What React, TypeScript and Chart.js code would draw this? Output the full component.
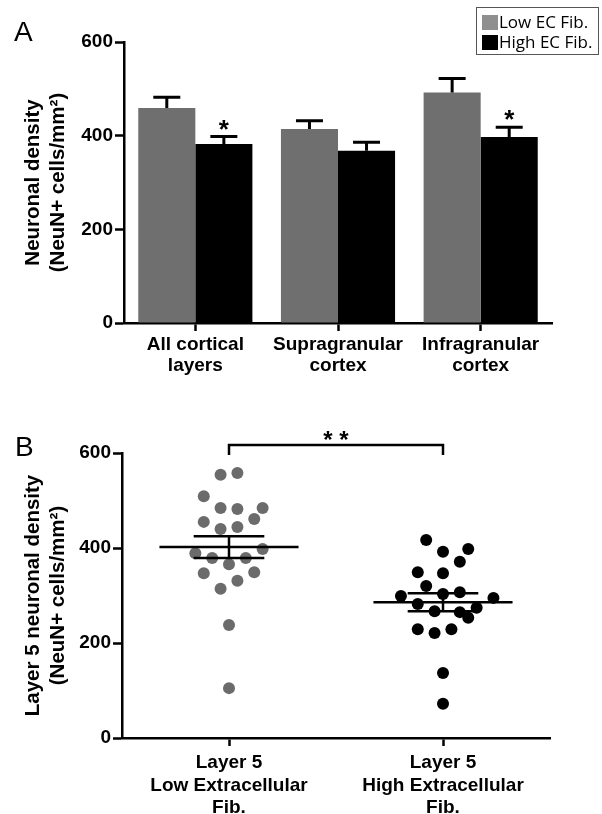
import React, { useEffect, useRef } from "react";
import { Chart, registerables } from "chart.js";

Chart.register(...registerables);

// ---------- Panel A data ----------
const categoriesA = [
  ["All cortical", "layers"],
  ["Supragranular", "cortex"],
  ["Infragranular", "cortex"],
];
const lowFibMean = [459, 414, 492];
const lowFibSem = [23, 18, 30];
const highFibMean = [382, 368, 397];
const highFibSem = [16, 18, 21];
const highFibSignif = ["*", "", "*"];
const seriesNames = ["Low EC Fib.", "High EC Fib."];

// ---------- Panel B data ----------
const groupLabelsB = [
  ["Layer 5", "Low Extracellular", "Fib."],
  ["Layer 5", "High Extracellular", "Fib."],
];
const layer5Low = [554, 558, 509, 484, 482, 484, 461, 455, 440, 444, 389, 398, 379, 366, 379, 347, 349, 331, 314, 238, 105];
const layer5LowJitter = [-1, 1, -3, -1, 1, 4, 3, -3, -1, 1, -4, 4, -2, 0, 2, -3, 3, 1, -1, 0, 0];
const layer5High = [417, 392, 398, 371, 349, 347, 320, 299, 303, 307, 295, 282, 267, 265, 274, 253, 229, 221, 229, 137, 72];
const layer5HighJitter = [-2, 0, 3, 2, -3, 0, -2, -5, 0, 2, 6, -3, -1, 2, 4, 3, -3, -1, 1, 0, 0];
const groupMeans = [402, 286];
const groupSems = [23, 19];
const bracketValue = 617;
const bracketLabel = "* *";

const FONT = '"Liberation Sans", Arial, Helvetica, sans-serif';
const GRAY = "#6f6f6f";
const GRAY_DOT = "#6b6b6b";
const JITTER_STEP = 0.0393;

const errorBarPlugin = {
  id: "errorBarsA",
  afterDatasetsDraw(chart: any) {
    const ctx = chart.ctx;
    const yScale = chart.scales.y;
    const sems = [lowFibSem, highFibSem];
    const means = [lowFibMean, highFibMean];
    ctx.save();
    ctx.strokeStyle = "#000";
    ctx.lineWidth = 3;
    ctx.lineCap = "butt";
    for (let d = 0; d < 2; d++) {
      const meta = chart.getDatasetMeta(d);
      meta.data.forEach((el: any, j: number) => {
        const top = yScale.getPixelForValue(means[d][j] + sems[d][j]);
        ctx.beginPath();
        ctx.moveTo(el.x, el.y);
        ctx.lineTo(el.x, top);
        ctx.moveTo(el.x - 13.5, top);
        ctx.lineTo(el.x + 13.5, top);
        ctx.stroke();
        if (d === 1 && highFibSignif[j]) {
          ctx.fillStyle = "#000";
          ctx.font = `bold 26px ${FONT}`;
          ctx.textAlign = "center";
          ctx.textBaseline = "alphabetic";
          ctx.fillText(highFibSignif[j], el.x, top + 1);
        }
      });
    }
    ctx.restore();
  },
};

const meanSemPlugin = {
  id: "meanSemB",
  afterDatasetsDraw(chart: any) {
    const ctx = chart.ctx;
    const xs = chart.scales.x;
    const ys = chart.scales.y;
    ctx.save();
    ctx.strokeStyle = "#000";
    ctx.lineWidth = 2.5;
    groupMeans.forEach((m, i) => {
      const cx = xs.getPixelForValue(i + 1);
      const halfMean = xs.getPixelForValue(i + 1 + 0.325) - cx;
      const halfSem = xs.getPixelForValue(i + 1 + 0.165) - cx;
      const ym = ys.getPixelForValue(m);
      const yt = ys.getPixelForValue(m + groupSems[i]);
      const yb = ys.getPixelForValue(m - groupSems[i]);
      ctx.beginPath();
      ctx.moveTo(cx - halfMean, ym);
      ctx.lineTo(cx + halfMean, ym);
      ctx.moveTo(cx - halfSem, yt);
      ctx.lineTo(cx + halfSem, yt);
      ctx.moveTo(cx - halfSem, yb);
      ctx.lineTo(cx + halfSem, yb);
      ctx.moveTo(cx, yt);
      ctx.lineTo(cx, yb);
      ctx.stroke();
    });
    // significance bracket
    const x1 = xs.getPixelForValue(1);
    const x2 = xs.getPixelForValue(2);
    const yBr = ys.getPixelForValue(bracketValue);
    ctx.lineWidth = 2.5;
    ctx.beginPath();
    ctx.moveTo(x1, yBr + 10);
    ctx.lineTo(x1, yBr);
    ctx.lineTo(x2, yBr);
    ctx.lineTo(x2, yBr + 10);
    ctx.stroke();
    ctx.fillStyle = "#000";
    ctx.font = `bold 24px ${FONT}`;
    ctx.textAlign = "center";
    ctx.textBaseline = "alphabetic";
    ctx.fillText(bracketLabel, (x1 + x2) / 2, yBr + 3);
    ctx.restore();
  },
};

const tickFont = { family: FONT, size: 19, weight: "bold" as const };
const titleFont = { family: FONT, size: 20.5, weight: "bold" as const, lineHeight: 1.22 };

export default function App() {
  const refA = useRef<HTMLCanvasElement | null>(null);
  const refB = useRef<HTMLCanvasElement | null>(null);

  useEffect(() => {
    const chartA = new Chart(refA.current as HTMLCanvasElement, {
      type: "bar",
      data: {
        labels: categoriesA as any,
        datasets: [
          { label: seriesNames[0], data: lowFibMean, backgroundColor: GRAY, borderWidth: 0 },
          { label: seriesNames[1], data: highFibMean, backgroundColor: "#000", borderWidth: 0 },
        ],
      },
      options: {
        responsive: false,
        animation: false,
        devicePixelRatio: 1,
        layout: { padding: { top: 42, right: 50, left: 0, bottom: 0 } },
        plugins: { legend: { display: false }, tooltip: { enabled: false } },
        datasets: { bar: { barPercentage: 1, categoryPercentage: 0.8 } },
        scales: {
          x: {
            grid: { display: true, drawOnChartArea: false, offset: false, tickLength: 8, tickWidth: 2.5, tickColor: "#000" },
            border: { display: true, color: "#000", width: 2.5 },
            ticks: { color: "#000", font: { ...tickFont, lineHeight: 1.1 }, padding: 3, maxRotation: 0, autoSkip: false },
            afterFit: (s: any) => { s.height = 77; },
          },
          y: {
            min: 0,
            max: 600,
            ticks: { stepSize: 200, color: "#000", font: tickFont, padding: 2 },
            grid: { display: true, drawOnChartArea: false, tickLength: 9, tickWidth: 2.5, tickColor: "#000" },
            border: { display: true, color: "#000", width: 2.5 },
            title: { display: true, text: ["Neuronal density", "(NeuN+ cells/mm²)"], color: "#000", font: titleFont, padding: { top: 21, bottom: 0 } },
            afterFit: (s: any) => { s.width = 124; },
          },
        },
      } as any,
      plugins: [errorBarPlugin],
    });

    const chartB = new Chart(refB.current as HTMLCanvasElement, {
      type: "scatter",
      data: {
        datasets: [
          {
            label: "Low",
            data: layer5Low.map((v, i) => ({ x: 1 + layer5LowJitter[i] * JITTER_STEP, y: v })),
            backgroundColor: GRAY_DOT,
            borderWidth: 0,
            pointRadius: 6,
          },
          {
            label: "High",
            data: layer5High.map((v, i) => ({ x: 2 + layer5HighJitter[i] * JITTER_STEP, y: v })),
            backgroundColor: "#000",
            borderWidth: 0,
            pointRadius: 6,
          },
        ],
      },
      options: {
        responsive: false,
        animation: false,
        devicePixelRatio: 1,
        layout: { padding: { top: 53, right: 52, left: 0, bottom: 0 } },
        plugins: { legend: { display: false }, tooltip: { enabled: false } },
        scales: {
          x: {
            type: "linear",
            min: 0.5,
            max: 2.5,
            afterBuildTicks: (s: any) => { s.ticks = [{ value: 1 }, { value: 2 }]; },
            grid: { display: true, drawOnChartArea: false, tickLength: 8, tickWidth: 2.5, tickColor: "#000" },
            border: { display: true, color: "#000", width: 2.5 },
            ticks: {
              color: "#000",
              font: { ...tickFont, lineHeight: 1.18 },
              padding: 6,
              maxRotation: 0,
              autoSkip: false,
              callback: (_v: any, i: number) => groupLabelsB[i],
            },
            afterFit: (s: any) => { s.height = 76; },
          },
          y: {
            min: 0,
            max: 600,
            ticks: { stepSize: 200, color: "#000", font: tickFont, padding: 2 },
            grid: { display: true, drawOnChartArea: false, tickLength: 9, tickWidth: 2.5, tickColor: "#000" },
            border: { display: true, color: "#000", width: 2.5 },
            title: { display: true, text: ["Layer 5 neuronal density", "(NeuN+ cells/mm²)"], color: "#000", font: titleFont, padding: { top: 21, bottom: 0 } },
            afterFit: (s: any) => { s.width = 122; },
          },
        },
      } as any,
      plugins: [meanSemPlugin],
    });

    return () => {
      chartA.destroy();
      chartB.destroy();
    };
  }, []);

  const legendRow = (color: string, text: string) => (
    <div style={{ display: "flex", alignItems: "center", height: 20 }}>
      <div style={{ width: 16, height: 15, background: color, marginRight: 1 }} />
      <span>{text}</span>
    </div>
  );

  return (
    <div style={{ position: "absolute", left: 0, top: 0, width: 602, height: 814, background: "#fff", overflow: "hidden" }}>
      <canvas ref={refA} width={602} height={400} style={{ position: "absolute", left: 0, top: 0, width: 602, height: 400 }} />
      <canvas ref={refB} width={602} height={414} style={{ position: "absolute", left: 0, top: 400, width: 602, height: 414 }} />
      <div style={{ position: "absolute", left: 14, top: 18, font: `28px ${FONT}`, lineHeight: "28px", color: "#000" }}>A</div>
      <div style={{ position: "absolute", left: 15, top: 433, font: `28px ${FONT}`, lineHeight: "28px", color: "#000" }}>B</div>
      <div
        style={{
          position: "absolute",
          left: 476,
          top: 7,
          width: 123,
          height: 48,
          border: "1px solid #555",
          boxSizing: "border-box",
          padding: "4px 0 0 5px",
          font: `17px "Open Sans", "Noto Sans", sans-serif`,
          lineHeight: "20px",
          color: "#000",
        }}
      >
        {legendRow("#8f8f8f", seriesNames[0])}
        {legendRow("#000", seriesNames[1])}
      </div>
    </div>
  );
}
